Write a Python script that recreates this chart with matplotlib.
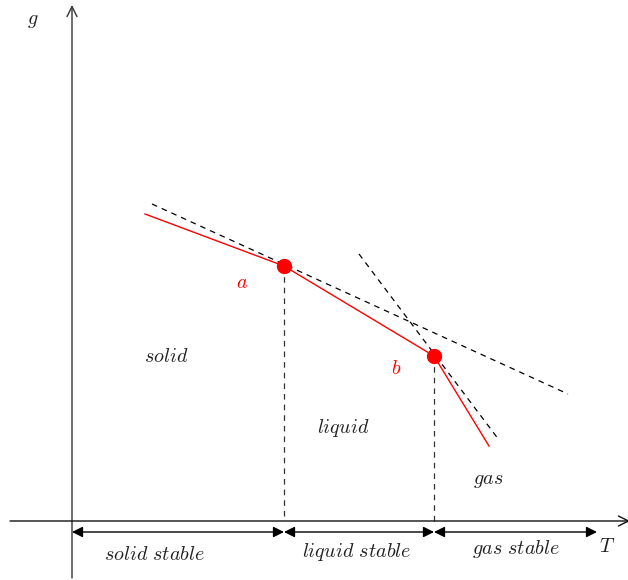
import matplotlib
matplotlib.use("Agg")
import matplotlib.pyplot as plt

plt.rcParams['mathtext.fontset'] = 'cm'

# Diagram data (T, g) in arbitrary units, origin at axis crossing
point_a = (2.12, 2.55)
point_b = (3.62, 1.65)
solid_start = (0.73, 3.07)
gas_end = (4.17, 0.75)
tangent_sl = [(0.80, 3.17), (4.96, 1.27)]
tangent_lg = [(2.87, 2.67), (4.27, 0.81)]
arrow_g = -0.11
gas_stable_end = 5.25

phase_labels = ["solid", "liquid", "gas"]
phase_pos = [(0.94, 1.65), (2.71, 0.93), (4.16, 0.40)]
stable_labels = ["solid stable", "liquid stable", "gas stable"]
stable_pos = [(0.83, -0.33), (2.85, -0.31), (4.44, -0.28)]

fig = plt.figure(figsize=(6.28, 5.8), dpi=100)
ax = fig.add_axes([0, 0, 1, 1])
ax.set_xlim(-0.72, 5.56)
ax.set_ylim(-0.59, 5.21)
ax.axis('off')

# axes arrows
ax.annotate('', xy=(0, 5.16), xytext=(0, -0.57), annotation_clip=False,
            arrowprops=dict(arrowstyle='->', color='#333333', lw=1.0, mutation_scale=18, shrinkA=0, shrinkB=0))
ax.annotate('', xy=(5.58, 0), xytext=(-0.62, 0), annotation_clip=False,
            arrowprops=dict(arrowstyle='->', color='#111111', lw=1.0, mutation_scale=18, shrinkA=0, shrinkB=0))

# tangent dashed lines
for seg in (tangent_sl, tangent_lg):
    ax.plot([seg[0][0], seg[1][0]], [seg[0][1], seg[1][1]], ls=(0, (4.5, 4)), color='black', lw=0.9)

# vertical dashed lines
for p in (point_a, point_b):
    ax.plot([p[0], p[0]], [p[1], 0], ls=(0, (4.5, 4)), color='#333333', lw=0.9)

# red curve
xs = [solid_start[0], point_a[0], point_b[0], gas_end[0]]
ys = [solid_start[1], point_a[1], point_b[1], gas_end[1]]
ax.plot(xs, ys, color='red', lw=1.0)
ax.plot([point_a[0], point_b[0]], [point_a[1], point_b[1]], 'o', color='red', ms=10, zorder=5)

# stable arrows
bounds = [0, point_a[0], point_b[0], gas_stable_end]
for i in range(3):
    ax.annotate('', xy=(bounds[i + 1], arrow_g), xytext=(bounds[i], arrow_g),
                arrowprops=dict(arrowstyle='<|-|>', color='black', lw=1.0, mutation_scale=16, shrinkA=0, shrinkB=0))

fs = 14.5
for lab, (x, y) in zip(phase_labels, phase_pos):
    ax.text(x, y, r'$\mathit{' + lab + '}$', ha='center', va='center', fontsize=fs, color='#222222')
for lab, (x, y) in zip(stable_labels, stable_pos):
    ax.text(x, y, r'$\mathit{' + lab.replace(' ', r'\ ') + '}$', ha='center', va='center', fontsize=fs, color='#222222')

ax.text(1.70, 2.38, r'$a$', ha='center', va='center', fontsize=fs, color='red')
ax.text(3.24, 1.53, r'$b$', ha='center', va='center', fontsize=fs, color='red')
ax.text(-0.39, 5.01, r'$g$', ha='center', va='center', fontsize=fs, color='#222222')
ax.text(5.35, -0.25, r'$T$', ha='center', va='center', fontsize=fs, color='#222222')

fig.savefig('out.png', dpi=100)
